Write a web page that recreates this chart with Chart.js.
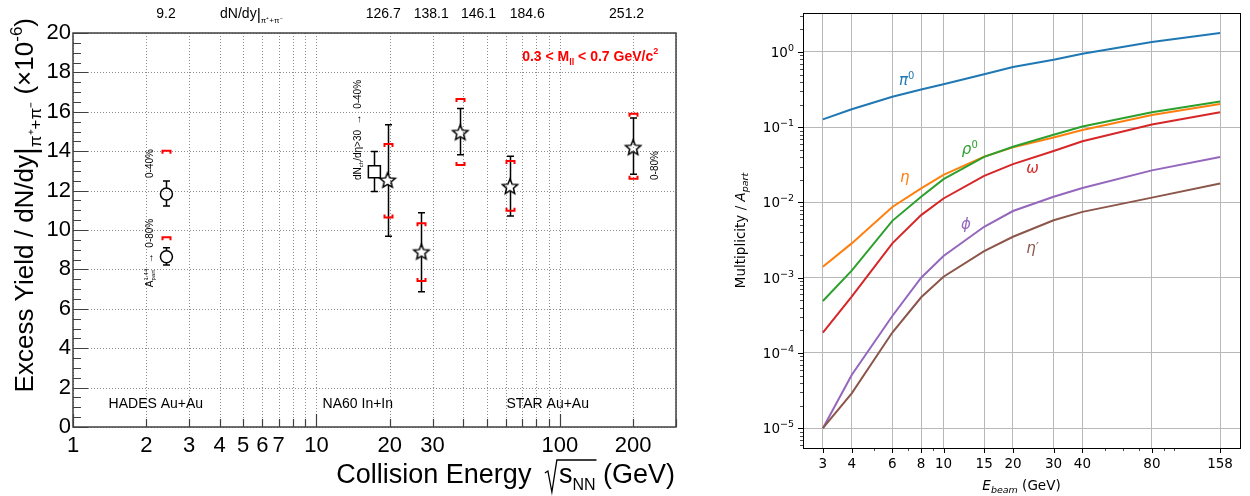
<!DOCTYPE html>
<html lang="en">
<head>
<meta charset="UTF-8">
<title>Excess yield vs collision energy / meson multiplicities</title>
<script src="https://cdn.jsdelivr.net/npm/chart.js@4.4.1/dist/chart.umd.min.js"></script>
<style>
    body { margin: 0; background: #fff; }
    #wrap { position: relative; width: 1250px; height: 496px; }
    canvas { position: absolute; top: 0; }
</style>
</head>
<body>
<div id="wrap">
    <canvas id="excess" width="700" height="496" style="left:0"></canvas>
    <canvas id="mult" width="550" height="496" style="left:700px"></canvas>
</div>
<script>
// ---- left panel: excess yield / dN/dy vs sqrt(s_NN) ----
var hadesE = [2.42, 2.42];
var hadesY = [11.83, 8.64];
var hadesLo = [11.22, 8.22];
var hadesHi = [12.49, 9.10];
var hadesSysHi = [14.02, 9.63];

var na60E = [17.3];
var na60Y = [12.96];
var na60Lo = [11.95];
var na60Hi = [13.98];

var starE = [19.6, 27, 39, 62.4, 200];
var starY = [12.54, 8.9, 14.96, 12.22, 14.2];
var starLo = [9.68, 6.86, 13.82, 10.71, 12.83];
var starHi = [15.34, 10.88, 16.17, 13.74, 15.68];
var starSysLo = [10.64, 7.41, 13.3, 10.98, 12.6];
var starSysHi = [14.37, 10.34, 16.65, 13.5, 15.9];

var dndyLabels = ['9.2', '126.7', '138.1', '146.1', '184.6', '251.2'];
var dndyLabelE = [2.41, 18.8, 29.6, 46.3, 73.4, 188];

var energyTicks = [1, 2, 3, 4, 5, 6, 7, 8, 9, 10, 20, 30, 40, 50, 60, 70, 80, 90, 100, 200, 300];
var energyLabels = [1, 2, 3, 4, 5, 6, 7, 10, 20, 30, 100, 200];

// ---- right panel: multiplicity / A_part vs E_beam ----
var beamE = [3, 4, 6, 8, 10, 15, 20, 30, 40, 80, 158];
var pi0 = [0.127, 0.173, 0.254, 0.318, 0.373, 0.507, 0.633, 0.79, 0.95, 1.36, 1.79];
var eta = [1.40e-3, 2.86e-3, 8.7e-3, 0.0154, 0.0233, 0.0407, 0.054, 0.073, 0.092, 0.145, 0.203];
var rho0 = [4.9e-4, 1.24e-3, 5.7e-3, 0.0119, 0.0204, 0.0404, 0.055, 0.0795, 0.102, 0.158, 0.22];
var omega = [1.87e-4, 5.6e-4, 2.86e-3, 6.8e-3, 0.0113, 0.0226, 0.0323, 0.0484, 0.065, 0.109, 0.158];
var phi = [1.0e-5, 5.1e-5, 3.1e-4, 1.0e-3, 1.94e-3, 4.75e-3, 7.7e-3, 0.0119, 0.0156, 0.0267, 0.0402];
var etaPrime = [1.0e-5, 2.9e-5, 1.87e-4, 5.5e-4, 1.03e-3, 2.26e-3, 3.5e-3, 5.8e-3, 7.5e-3, 0.0116, 0.0179];

var beamTicks = [3, 4, 6, 8, 10, 15, 20, 30, 40, 80, 158];
var decades = [1e-5, 1e-4, 1e-3, 1e-2, 1e-1, 1];

var ROOTFONT = "'Liberation Sans', Arial, Helvetica, sans-serif";
var MPLFONT = "'DejaVu Sans', sans-serif";

// small rich-text helper: parts = {t, size, dy, italic, stack}
function fontOf(p, base) {
    return (p.italic ? 'italic ' : '') + (base.bold ? 'bold ' : '') + p.size + 'px ' + base.family;
}
function drawRich(ctx, parts, x, y, align, base) {
    var items = [], cx = 0, i = 0;
    while (i < parts.length) {
        var p = parts[i];
        ctx.font = fontOf(p, base);
        var w = ctx.measureText(p.t).width;
        items.push({p: p, x: cx});
        if (p.stack && parts[i + 1]) {
            var q = parts[i + 1];
            ctx.font = fontOf(q, base);
            w = Math.max(w, ctx.measureText(q.t).width);
            items.push({p: q, x: cx});
            i++;
        }
        cx += w;
        i++;
    }
    var x0 = align === 'right' ? x - cx : (align === 'center' ? x - cx / 2 : x);
    ctx.fillStyle = base.color;
    ctx.textAlign = 'left';
    ctx.textBaseline = 'alphabetic';
    items.forEach(function (it) {
        ctx.font = fontOf(it.p, base);
        ctx.fillText(it.p.t, x0 + it.x, y + (it.p.dy || 0));
    });
    return cx;
}
function drawRotated(ctx, parts, x, y, align, base) {
    ctx.save();
    ctx.translate(x, y);
    ctx.rotate(-Math.PI / 2);
    drawRich(ctx, parts, 0, 0, align, base);
    ctx.restore();
}

// open five point star marker
function makeStar(R, ratio) {
    var c = document.createElement('canvas');
    var s = Math.ceil(2 * R + 4);
    c.width = s; c.height = s;
    var g = c.getContext('2d');
    g.translate(s / 2, s / 2 + R * 0.1);
    g.beginPath();
    for (var k = 0; k < 10; k++) {
        var r = k % 2 === 0 ? R : R * ratio;
        var a = -Math.PI / 2 + k * Math.PI / 5;
        if (k === 0) g.moveTo(r * Math.cos(a), r * Math.sin(a));
        else g.lineTo(r * Math.cos(a), r * Math.sin(a));
    }
    g.closePath();
    g.lineWidth = 1.5;
    g.strokeStyle = '#000';
    g.stroke();
    return c;
}
var starMarker = makeStar(8, 0.45);

function pts(xs, ys) {
    return xs.map(function (x, i) { return {x: x, y: ys[i]}; });
}

function bracket(ctx, px, py, dir) {
    ctx.beginPath();
    ctx.moveTo(px - 4, py + 3 * dir);
    ctx.lineTo(px - 4, py);
    ctx.lineTo(px + 4, py);
    ctx.lineTo(px + 4, py + 3 * dir);
    ctx.stroke();
}

var excessPlugin = {
    id: 'excessExtras',
    beforeDatasetsDraw: function (chart) {
        var ctx = chart.ctx, a = chart.chartArea, xs = chart.scales.x, ys = chart.scales.y;
        ctx.save();

        // dotted ROOT style grid
        ctx.strokeStyle = '#8c8c8c';
        ctx.lineWidth = 1;
        ctx.setLineDash([1, 2]);
        ctx.beginPath();
        energyTicks.forEach(function (e) {
            var px = Math.round(xs.getPixelForValue(e)) + 0.5;
            ctx.moveTo(px, a.top); ctx.lineTo(px, a.bottom);
        });
        ys.ticks.forEach(function (t) {
            var py = Math.round(ys.getPixelForValue(t.value)) + 0.5;
            ctx.moveTo(a.left, py); ctx.lineTo(a.right, py);
        });
        ctx.stroke();
        ctx.setLineDash([]);

        ctx.strokeStyle = '#000';
        ctx.lineWidth = 1.5;
        function bar(e, v, lo, hi, gap) {
            var px = Math.round(xs.getPixelForValue(e)) + 0.5;
            var py = ys.getPixelForValue(v);
            var pl = ys.getPixelForValue(lo), ph = ys.getPixelForValue(hi);
            ctx.beginPath();
            ctx.moveTo(px, ph); ctx.lineTo(px, py - gap);
            ctx.moveTo(px, py + gap); ctx.lineTo(px, pl);
            ctx.moveTo(px - 3.5, ph); ctx.lineTo(px + 3.5, ph);
            ctx.moveTo(px - 3.5, pl); ctx.lineTo(px + 3.5, pl);
            ctx.stroke();
        }
        hadesE.forEach(function (e, i) { bar(e, hadesY[i], hadesLo[i], hadesHi[i], 6); });
        na60E.forEach(function (e, i) { bar(e, na60Y[i], na60Lo[i], na60Hi[i], 6); });
        starE.forEach(function (e, i) { bar(e, starY[i], starLo[i], starHi[i], 5); });
        ctx.restore();
    },
    afterDraw: function (chart) {
        var ctx = chart.ctx, a = chart.chartArea, xs = chart.scales.x, ys = chart.scales.y;
        var X = function (v) { return xs.getPixelForValue(v); };
        var Y = function (v) { return ys.getPixelForValue(v); };
        ctx.save();

        // systematic brackets
        ctx.strokeStyle = '#f00';
        ctx.lineWidth = 2;
        hadesSysHi.forEach(function (v, i) { bracket(ctx, Math.round(X(hadesE[i])) + 0.5, Y(v), 1); });
        starSysHi.forEach(function (v, i) { bracket(ctx, Math.round(X(starE[i])) + 0.5, Y(v), 1); });
        starSysLo.forEach(function (v, i) { bracket(ctx, Math.round(X(starE[i])) + 0.5, Y(v), -1); });

        // frame
        ctx.strokeStyle = '#404040';
        ctx.lineWidth = 1.5;
        ctx.strokeRect(a.left, a.top, a.right - a.left, a.bottom - a.top);

        // inward ticks
        ctx.lineWidth = 1.2;
        ctx.beginPath();
        for (var v = 0; v <= 20; v += 0.5) {
            var len = (v % 2 === 0) ? 15 : 8;
            var py = Math.round(Y(v)) + 0.5;
            ctx.moveTo(a.left, py); ctx.lineTo(a.left + len, py);
        }
        energyTicks.forEach(function (e) {
            var l2 = (e === 1 || e === 10 || e === 100) ? 13 : 8;
            var px = Math.round(X(e)) + 0.5;
            ctx.moveTo(px, a.bottom); ctx.lineTo(px, a.bottom - l2);
        });
        ctx.stroke();

        var base = {family: ROOTFONT, color: '#000'};
        var red = {family: ROOTFONT, color: '#f00', bold: true};

        // y title
        drawRotated(ctx, [
            {t: 'Excess Yield / dN/dy', size: 26},
            {t: '|', size: 30, dy: 3},
            {t: 'π⁺+π⁻', size: 17, dy: 8},
            {t: ' (×10', size: 26},
            {t: '-6', size: 17, dy: -11},
            {t: ')', size: 26}
        ], 33, 18, 'right', base);

        // x title with radical
        ctx.font = '27px ' + ROOTFONT;
        var wA = ctx.measureText('Collision Energy ').width;
        var wS = ctx.measureText('s').width;
        var wG = ctx.measureText(' (GeV)').width;
        ctx.font = '16px ' + ROOTFONT;
        var wN = ctx.measureText('NN').width;
        var wR = 20;
        var bx = 675 - (wA + wR + wS + wN + wG), by = 483;
        ctx.fillStyle = '#000';
        ctx.textAlign = 'left';
        ctx.textBaseline = 'alphabetic';
        ctx.font = '27px ' + ROOTFONT;
        ctx.fillText('Collision Energy ', bx, by);
        var rx = bx + wA + 6;
        ctx.strokeStyle = '#000';
        ctx.lineWidth = 1.3;
        ctx.beginPath();
        ctx.moveTo(rx, by - 10); ctx.lineTo(rx + 3, by - 12);
        ctx.lineTo(rx + 7, by + 9); ctx.lineTo(rx + 12, by - 23);
        ctx.lineTo(rx + 14 + wS + wN + 1, by - 23);
        ctx.stroke();
        ctx.fillText('s', rx + 14, by);
        ctx.font = '16px ' + ROOTFONT;
        ctx.fillText('NN', rx + 14 + wS, by + 7);
        ctx.font = '27px ' + ROOTFONT;
        ctx.fillText(' (GeV)', rx + 14 + wS + wN, by);

        // dN/dy values above frame
        ctx.font = '14px ' + ROOTFONT;
        ctx.textAlign = 'center';
        dndyLabels.forEach(function (s, i) { ctx.fillText(s, X(dndyLabelE[i]), a.top - 15); });
        drawRich(ctx, [
            {t: 'dN/dy', size: 14},
            {t: '|', size: 16, dy: 2},
            {t: 'π⁺+π⁻', size: 8, dy: 5}
        ], X(4.02), a.top - 15, 'left', base);

        // mass window
        drawRich(ctx, [
            {t: '0.3 < M', size: 14},
            {t: 'll', size: 9, dy: 4},
            {t: ' < 0.7 GeV/c', size: 14},
            {t: '2', size: 9, dy: -7}
        ], X(70), Y(18.56), 'left', red);

        // experiment names
        ctx.font = '14px ' + ROOTFONT;
        ctx.fillStyle = '#000';
        ctx.textAlign = 'left';
        ctx.fillText('HADES Au+Au', X(1.40), Y(0.95));
        ctx.fillText('NA60 In+In', X(10.6), Y(0.95));
        ctx.fillText('STAR Au+Au', X(60.3), Y(0.95));

        // rotated centrality notes
        drawRotated(ctx, [{t: '0-40%', size: 10}], X(2.13), Y(12.64), 'left', base);
        drawRotated(ctx, [
            {t: 'A', size: 10},
            {t: '1.44', size: 6, dy: -5, stack: true},
            {t: 'part', size: 6, dy: 2},
            {t: '  →  0-80%', size: 10}
        ], X(2.13), Y(7.1), 'left', base);
        drawRotated(ctx, [
            {t: 'dN', size: 10},
            {t: 'ch', size: 6, dy: 2},
            {t: '/dη>30  →  0-40%', size: 10}
        ], X(15.3), Y(12.54), 'left', base);
        drawRotated(ctx, [{t: '0-80%', size: 10}], X(252), Y(12.54), 'left', base);

        ctx.restore();
    }
};

new Chart(document.getElementById('excess').getContext('2d'), {
    type: 'scatter',
    data: {
        datasets: [{
            data: pts(hadesE, hadesY),
            pointStyle: 'circle',
            pointRadius: 6,
            pointBorderWidth: 1.5,
            borderColor: '#000',
            backgroundColor: 'rgba(0,0,0,0)'
        }, {
            data: pts(na60E, na60Y),
            pointStyle: 'rect',
            pointRadius: 8.5,
            pointBorderWidth: 1.5,
            borderColor: '#000',
            backgroundColor: 'rgba(0,0,0,0)'
        }, {
            data: pts(starE, starY),
            pointStyle: starMarker,
            pointRadius: 8
        }]
    },
    options: {
        responsive: false,
        animation: false,
        devicePixelRatio: 1,
        layout: { padding: { left: 0, top: 33, right: 24, bottom: 0 } },
        plugins: { legend: { display: false }, tooltip: { enabled: false } },
        scales: {
            x: {
                type: 'logarithmic',
                min: 1,
                max: 300,
                afterBuildTicks: function (s) { s.ticks = energyTicks.map(function (v) { return {value: v}; }); },
                afterFit: function (s) { s.height = 69; },
                grid: { display: false, drawTicks: false },
                border: { display: false },
                ticks: {
                    autoSkip: false, maxRotation: 0, minRotation: 0, padding: 6,
                    color: '#000', font: { family: ROOTFONT, size: 22 },
                    callback: function (v) { return energyLabels.indexOf(v) >= 0 ? String(v) : ''; }
                }
            },
            y: {
                min: 0,
                max: 20,
                afterFit: function (s) { s.width = 73; },
                grid: { display: false, drawTicks: false },
                border: { display: false },
                ticks: { stepSize: 2, padding: 2, color: '#000', font: { family: ROOTFONT, size: 22 } }
            }
        }
    },
    plugins: [excessPlugin]
});

// ---- right panel ----
var curveLabels = [
    [{t: 'π', size: 15, italic: true}, {t: '0', size: 10, dy: -6}],
    [{t: 'η', size: 15, italic: true}],
    [{t: 'ρ', size: 15, italic: true}, {t: '0', size: 10, dy: -6}],
    [{t: 'ω', size: 15, italic: true}],
    [{t: 'ϕ', size: 15, italic: true}],
    [{t: 'η', size: 15, italic: true}, {t: '′', size: 12, italic: true, dy: -2}]
];
var curveLabelE = [6.93, 6.8, 13.0, 24.3, 12.5, 24.3];
var curveLabelV = [0.42, 0.0221, 0.0514, 0.0288, 5.2e-3, 2.5e-3];
var curveColors = ['#1f77b4', '#ff7f0e', '#2ca02c', '#d62728', '#9467bd', '#8c564b'];
var curveSeries = [pi0, eta, rho0, omega, phi, etaPrime];

var multPlugin = {
    id: 'multExtras',
    afterDraw: function (chart) {
        var ctx = chart.ctx, a = chart.chartArea, xs = chart.scales.x, ys = chart.scales.y;
        ctx.save();
        ctx.strokeStyle = '#000';
        ctx.lineWidth = 1;
        ctx.strokeRect(Math.round(a.left) + 0.5, Math.round(a.top) + 0.5,
            Math.round(a.right - a.left), Math.round(a.bottom - a.top));

        ctx.beginPath();
        beamTicks.forEach(function (e) {
            var px = Math.round(xs.getPixelForValue(e)) + 0.5;
            ctx.moveTo(px, a.bottom); ctx.lineTo(px, a.bottom + 5);
        });
        decades.forEach(function (d) {
            var py = Math.round(ys.getPixelForValue(d)) + 0.5;
            ctx.moveTo(a.left, py); ctx.lineTo(a.left - 5, py);
        });
        ctx.stroke();
        ctx.lineWidth = 0.7;
        ctx.beginPath();
        [5, 7, 9, 50, 60, 70, 90, 100].forEach(function (e) {
            var px = Math.round(xs.getPixelForValue(e)) + 0.5;
            ctx.moveTo(px, a.bottom); ctx.lineTo(px, a.bottom + 3);
        });
        for (var n = -6; n <= 0; n++) {
            for (var k = 2; k <= 9; k++) {
                var v = k * Math.pow(10, n);
                var py = ys.getPixelForValue(v);
                if (py < a.top || py > a.bottom) continue;
                py = Math.round(py) + 0.5;
                ctx.moveTo(a.left, py); ctx.lineTo(a.left - 3, py);
            }
        }
        ctx.stroke();

        var base = {family: MPLFONT, color: '#000'};
        decades.forEach(function (d) {
            var ex = Math.round(Math.log10(d));
            drawRich(ctx, [
                {t: '10', size: 13.5},
                {t: ex === 0 ? '0' : '−' + (-ex), size: 9.5, dy: -6}
            ], a.left - 9, ys.getPixelForValue(d) + 5, 'right', base);
        });

        drawRotated(ctx, [
            {t: 'Multiplicity / ', size: 13.5},
            {t: 'A', size: 13.5, italic: true},
            {t: 'part', size: 9.5, italic: true, dy: 3}
        ], 45, (a.top + a.bottom) / 2, 'center', base);

        drawRich(ctx, [
            {t: 'E', size: 13.5, italic: true},
            {t: 'beam', size: 9.5, italic: true, dy: 3},
            {t: ' (GeV)', size: 13.5}
        ], (a.left + a.right) / 2, 490, 'center', base);

        curveLabels.forEach(function (parts, i) {
            drawRich(ctx, parts, xs.getPixelForValue(curveLabelE[i]), ys.getPixelForValue(curveLabelV[i]) + 5,
                'center', {family: MPLFONT, color: curveColors[i]});
        });
        ctx.restore();
    }
};

new Chart(document.getElementById('mult').getContext('2d'), {
    type: 'scatter',
    data: {
        datasets: curveSeries.map(function (s, i) {
            return {
                data: pts(beamE, s),
                showLine: true,
                borderColor: curveColors[i],
                borderWidth: 2,
                pointRadius: 0,
                tension: 0,
                order: 5 - i
            };
        })
    },
    options: {
        responsive: false,
        animation: false,
        devicePixelRatio: 1,
        layout: { padding: { left: 0, top: 13, right: 10, bottom: 0 } },
        plugins: { legend: { display: false }, tooltip: { enabled: false } },
        scales: {
            x: {
                type: 'logarithmic',
                min: Math.pow(10, 0.391),
                max: Math.pow(10, 2.285),
                afterBuildTicks: function (s) { s.ticks = beamTicks.map(function (v) { return {value: v}; }); },
                afterFit: function (s) { s.height = 48; },
                grid: { color: '#b8b8b8', lineWidth: 1, drawTicks: false },
                border: { display: false },
                ticks: {
                    autoSkip: false, maxRotation: 0, minRotation: 0, padding: 8,
                    color: '#000', font: { family: MPLFONT, size: 13.5 },
                    callback: function (v) { return String(v); }
                }
            },
            y: {
                type: 'logarithmic',
                min: Math.pow(10, -5.263),
                max: Math.pow(10, 0.518),
                afterBuildTicks: function (s) { s.ticks = decades.map(function (v) { return {value: v}; }); },
                afterFit: function (s) { s.width = 103; },
                grid: { color: '#b8b8b8', lineWidth: 1, drawTicks: false },
                border: { display: false },
                ticks: { display: false }
            }
        }
    },
    plugins: [multPlugin]
});
</script>
</body>
</html>
